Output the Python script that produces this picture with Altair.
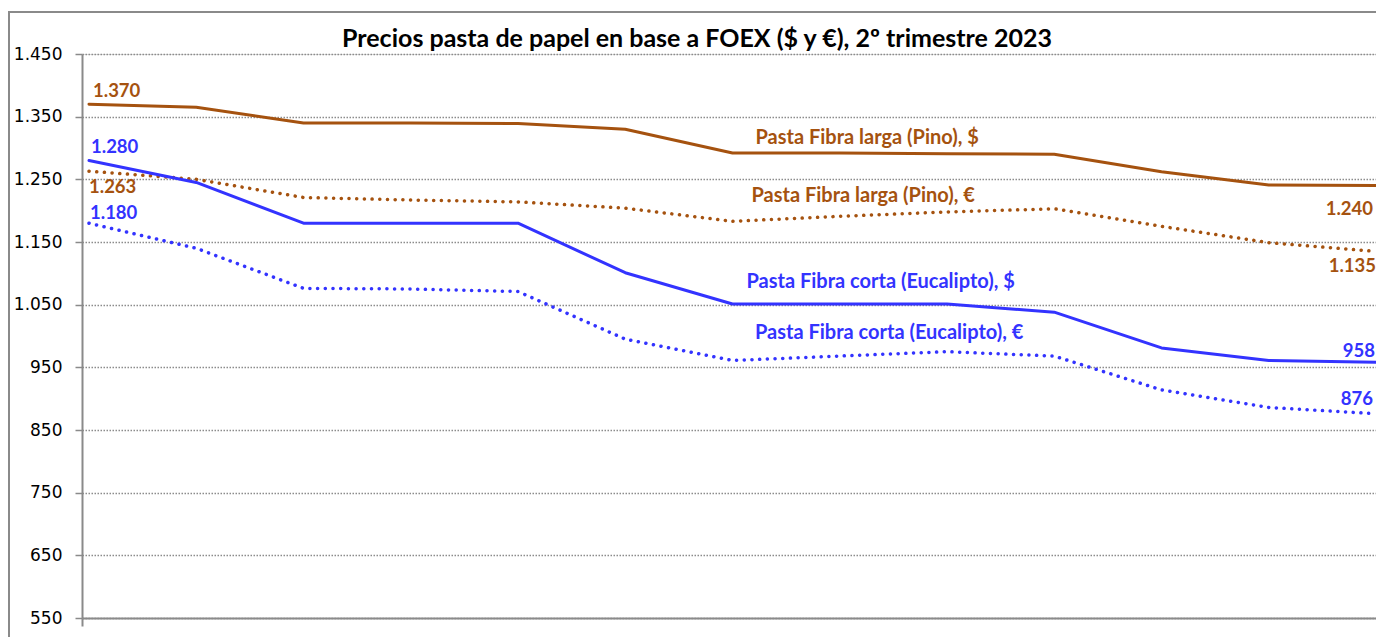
import altair as alt
import pandas as pd

# ---- data ----
periods = list(range(13))
series_names = [
    "Pasta Fibra larga (Pino), $",
    "Pasta Fibra larga (Pino), €",
    "Pasta Fibra corta (Eucalipto), $",
    "Pasta Fibra corta (Eucalipto), €",
]
larga_usd = [1370, 1365, 1340, 1340, 1339, 1330, 1292, 1292, 1291, 1290, 1262, 1241, 1240]
larga_eur = [1263, 1250, 1221, 1217, 1214, 1204, 1183, 1191, 1198, 1203, 1175, 1149, 1135]
corta_usd = [1280, 1245, 1180, 1180, 1180, 1101, 1051, 1051, 1051, 1038, 981, 961, 958]
corta_eur = [1180, 1140, 1076, 1075, 1071, 995, 961, 968, 975, 968, 914, 886, 876]
y_ticks = [550, 650, 750, 850, 950, 1050, 1150, 1250, 1350, 1450]
title_text = "Precios pasta de papel en base a FOEX ($ y €), 2º trimestre 2023"

BROWN = "#A5520F"
BLUE = "#3333FF"
GRID = "#8c8c8c"
AXIS = "#8a8a8a"

values = [larga_usd, larga_eur, corta_usd, corta_eur]
currency = ["$", "€", "$", "€"]
rows = []
for name, cur, vals in zip(series_names, currency, values):
    for p, v in zip(periods, vals):
        rows.append({"serie": name, "moneda": cur, "periodo": p, "precio": v,
                     "etiqueta": f"{v:,}".replace(",", ".")})
df = pd.DataFrame(rows)

x_min = -0.0653
x_scale = alt.Scale(domain=[x_min, 12], nice=False, zero=False)
y_scale = alt.Scale(domain=[550, 1450], nice=False, zero=False)

x_enc = alt.X("periodo:Q", scale=x_scale,
              axis=alt.Axis(values=[x_min], labels=False, title=None, grid=False,
                            ticks=True, tickSize=8, tickColor=AXIS, tickWidth=2,
                            domainColor=AXIS, domainWidth=2))
y_enc = alt.Y("precio:Q", scale=y_scale,
              axis=alt.Axis(values=y_ticks, title=None,
                            labelExpr="replace(format(datum.value, ','), ',', '.')",
                            labelFont="DejaVu Sans", labelFontSize=17, labelColor="#000000",
                            labelPadding=13, tickSize=7, tickColor=AXIS, tickWidth=1.5,
                            domainColor=AXIS, domainWidth=2,
                            grid=True, gridColor=GRID, gridDash=[1.5, 1.5], gridWidth=1.3))

color_scale = alt.Scale(domain=series_names, range=[BROWN, BROWN, BLUE, BLUE])

frame = alt.Chart(alt.Data(values=[{}])).mark_rect(
    fill="transparent", stroke=AXIS, strokeWidth=2
).encode(x=alt.value(-73), x2=alt.value(1500), y=alt.value(-42), y2=alt.value(800))

title = alt.Chart(alt.Data(values=[{"t": title_text}])).mark_text(
    font="Lato", fontWeight="bold", fontSize=25, color="#000000",
    align="center", baseline="middle"
).encode(x=alt.value(615), y=alt.value(-15), text="t:N")

solid = alt.Chart(df).transform_filter(alt.datum.moneda == "$").mark_line(
    interpolate="linear", strokeWidth=3, strokeCap="round", strokeJoin="round"
).encode(
    x=x_enc, y=y_enc,
    color=alt.Color("serie:N", scale=color_scale, legend=None),
    detail="serie:N",
)

dotted = alt.Chart(df).transform_filter(alt.datum.moneda == "€").mark_line(
    interpolate="linear", strokeWidth=3.5, strokeCap="round", strokeDash=[0.1, 7.6]
).encode(
    x=alt.X("periodo:Q", scale=x_scale), y=alt.Y("precio:Q", scale=y_scale),
    color=alt.Color("serie:N", scale=color_scale, legend=None),
    detail="serie:N",
)


def label(serie, periodo, field, color, align, dx, dy, size):
    return alt.Chart(df).transform_filter(
        (alt.datum.serie == serie) & (alt.datum.periodo == periodo)
    ).mark_text(
        font="Lato", fontWeight="bold", fontSize=size, color=color,
        align=align, baseline="middle", dx=dx, dy=dy
    ).encode(x=alt.X("periodo:Q", scale=x_scale), y=alt.Y("precio:Q", scale=y_scale),
             text=field)


labels = [
    label(series_names[0], 0, "etiqueta:N", BROWN, "left", 4, -13, 18.5),
    label(series_names[1], 0, "etiqueta:N", BROWN, "left", 0, 15.5, 18.5),
    label(series_names[2], 0, "etiqueta:N", BLUE, "left", 2, -13.3, 18.5),
    label(series_names[3], 0, "etiqueta:N", BLUE, "left", 1, -10, 18.5),
    label(series_names[0], 12, "etiqueta:N", BROWN, "right", -3, 23.6, 18.5),
    label(series_names[1], 12, "etiqueta:N", BROWN, "right", 0, 14.2, 18.5),
    label(series_names[2], 12, "etiqueta:N", BLUE, "right", -1, -11.8, 18.5),
    label(series_names[3], 12, "etiqueta:N", BLUE, "right", -3, -15.2, 18.5),
    label(series_names[0], 6, "serie:N", BROWN, "left", 23, -14.8, 20),
    label(series_names[1], 6, "serie:N", BROWN, "left", 19, -25.7, 20),
    label(series_names[2], 6, "serie:N", BLUE, "left", 14, -22.5, 20),
    label(series_names[3], 6, "serie:N", BLUE, "left", 22.5, -27.3, 20),
]

chart = alt.layer(frame, title, dotted, solid, *labels).properties(
    width=1294, height=564,
    autosize=alt.AutoSizeParams(type="none"),
    padding={"left": 74, "top": 46, "right": 0, "bottom": 19},
).configure_view(stroke="transparent").configure(background="white")

chart.save("out.html", embed_options={"renderer": "svg", "actions": False})
